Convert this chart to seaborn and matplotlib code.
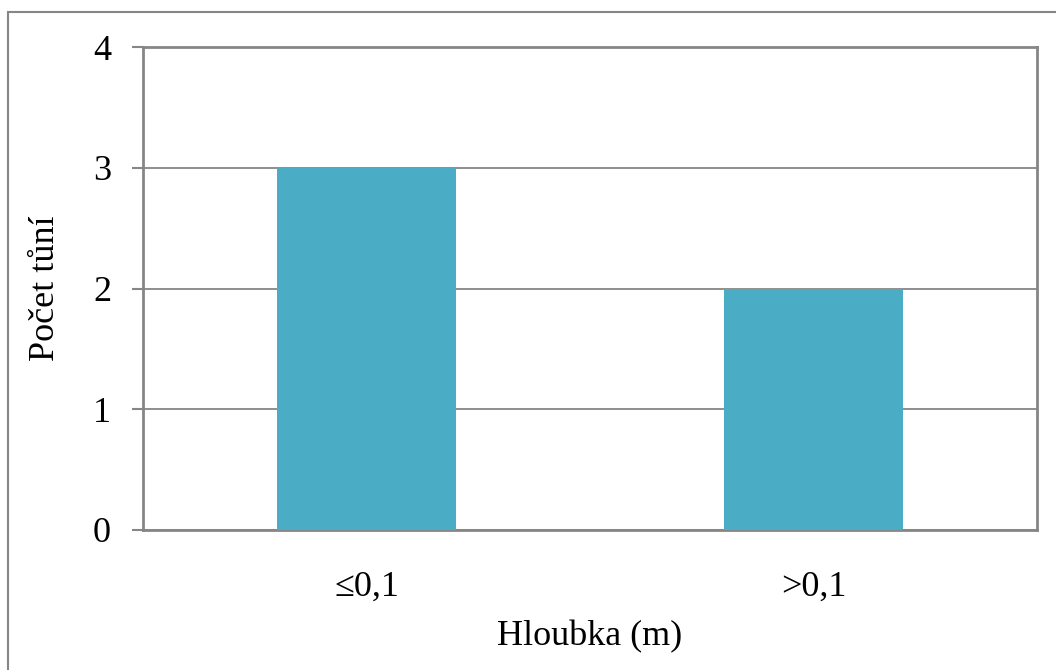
import matplotlib
matplotlib.use("Agg")
import matplotlib.pyplot as plt
import seaborn as sns
import pandas as pd
from matplotlib.patches import Rectangle

# --- Data ---
categories = ["≤0,1", ">0,1"]
counts = [3, 2]
y_ticks = [0, 1, 2, 3, 4]

df = pd.DataFrame({"Hloubka": categories, "Pocet": counts})

sns.set_style("white")
plt.rcParams["font.family"] = ["Liberation Serif", "DejaVu Serif"]
plt.rcParams["text.color"] = "black"
plt.rcParams["axes.labelcolor"] = "black"
plt.rcParams["xtick.color"] = "black"
plt.rcParams["ytick.color"] = "black"

grey = "#868686"
fig = plt.figure(figsize=(10.56, 6.70), dpi=100)
ax = fig.add_axes([143 / 1056, 1 - 530 / 670, (1037 - 143) / 1056, (530 - 47) / 670])

sns.barplot(data=df, x="Hloubka", y="Pocet", color="#4BACC6", width=0.4,
            saturation=1, linewidth=0, edgecolor="none", ax=ax, zorder=3)

ax.set_ylim(0, 4)
ax.set_yticks(y_ticks)
ax.set_xlim(-0.5, 1.5)
ax.yaxis.grid(True, color=grey, linewidth=1.3, zorder=0)
ax.set_axisbelow(True)

for s in ax.spines.values():
    s.set_color(grey)
    s.set_linewidth(2)

ax.tick_params(axis="y", length=8, width=1.5, color=grey, labelcolor="black",
               labelsize=26, pad=15, left=True)
ax.tick_params(axis="x", length=0, labelcolor="black", labelsize=26, pad=29)

ax.set_xlabel("Hloubka (m)", fontsize=26, labelpad=12, color="black")
ax.set_ylabel("Počet tůní", fontsize=26, labelpad=22, color="black")

# outer chart border
fig.patches.append(Rectangle((8 / 1056, -0.5), 2, (658 / 670) + 0.5,
                             transform=fig.transFigure, fill=False,
                             edgecolor=grey, linewidth=1.5))

fig.savefig("out.png", dpi=100)
